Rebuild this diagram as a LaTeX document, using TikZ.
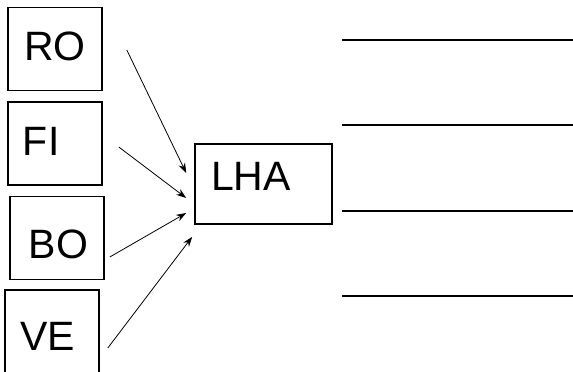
\documentclass[tikz,border=0pt]{standalone}
\usepackage{fontspec}
\setmainfont{Liberation Sans}
\usetikzlibrary{arrows.meta, calc}

\begin{document}
\begin{tikzpicture}[x=1pt, y=-1pt,
    box/.style={draw, line width=1.6pt, minimum width=94pt, minimum height=83pt, inner sep=0pt, font=\fontsize{41}{49}\selectfont},
    feed/.style={line width=0.8pt, -{Stealth[length=10pt, width=7pt]}}]
    \useasboundingbox (0,0) rectangle (573,372);
    \clip (0,0) rectangle (573,372);

    \node[box, text depth=6pt] (RO) at (55,49) {RO};
    \node[box, text depth=5pt, text width=64pt, align=left] (FI) at (55,143.5) {FI};
    \node[box, text height=41pt, text depth=0pt] (BO) at (57,238) {\hspace*{3pt}BO};
    \node[box, text height=38pt, text depth=0pt, text width=64pt, align=left] (VE) at (52,331.5) {VE};
    \node[box, minimum width=137pt, minimum height=80pt, text depth=15pt, text width=105pt, align=left] (LHA) at (263.5,184) {LHA};

    \draw[feed] ($(RO.east)+(24,1)$) -- ($(LHA.west)+(-8,-11)$);
    \draw[feed] ($(FI.east)+(16,3.5)$) -- ($(LHA.west)+(-8,14)$);
    \draw[feed] ($(BO.east)+(5,19)$) -- ($(LHA.west)+(-8,29)$);
    \draw[feed] ($(VE.east)+(8,16.5)$) -- ($(LHA.south west)+(-2,12)$);

    \foreach \y in {40, 125, 211, 296} \draw[line width=1.6pt] (342,\y) -- (573,\y);
\end{tikzpicture}
\end{document}
